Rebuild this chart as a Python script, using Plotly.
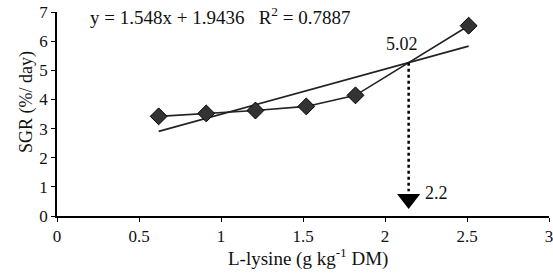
import plotly.graph_objects as go

lysine = [0.62, 0.91, 1.21, 1.52, 1.82, 2.51]
sgr = [3.42, 3.52, 3.62, 3.76, 4.14, 6.53]
slope, intercept = 1.548, 1.9436
r2 = 0.7887
x_ticks = [0, 0.5, 1, 1.5, 2, 2.5, 3]
y_ticks = [0, 1, 2, 3, 4, 5, 6, 7]

# intersection of regression line with last data segment
x1, y1, x2, y2 = lysine[-2], sgr[-2], lysine[-1], sgr[-1]
m = (y2 - y1) / (x2 - x1)
xi = (intercept - y1 + m * x1) / (m - slope)
yi = slope * xi + intercept

font = "Liberation Serif, Times New Roman, serif"
col = "#111"

fig = go.Figure()
fig.add_trace(go.Scatter(
    x=[lysine[0], lysine[-1]],
    y=[slope * lysine[0] + intercept, slope * lysine[-1] + intercept],
    mode="lines", line=dict(color="#222", width=1.6), showlegend=False))
fig.add_trace(go.Scatter(
    x=lysine, y=sgr, mode="lines+markers",
    line=dict(color="#222", width=1.6),
    marker=dict(symbol="diamond", size=13, color="#333", line=dict(color="#000", width=1)),
    showlegend=False))
fig.add_trace(go.Scatter(
    x=[xi, xi], y=[yi, 0.85], mode="lines",
    line=dict(color="#000", width=2.5, dash="dot"), showlegend=False))
fig.add_trace(go.Scatter(
    x=[xi], y=[0.58], mode="markers",
    marker=dict(symbol="triangle-down", size=20, color="#000", line=dict(width=0)),
    showlegend=False))

fig.add_annotation(x=0.19, y=6.85,
                   text=f"y = {slope}x + {intercept}&nbsp;&nbsp;&nbsp;R<sup>2</sup> = {r2}",
                   showarrow=False, font=dict(family=font, size=19, color=col),
                   xanchor="left", yanchor="middle")
fig.add_annotation(x=xi - 0.04, y=yi + 0.65, text="5.02", showarrow=False,
                   font=dict(family=font, size=18, color=col), xanchor="center", yanchor="middle")
fig.add_annotation(x=xi + 0.09, y=0.8, text="2.2", showarrow=False,
                   font=dict(family=font, size=18, color=col), xanchor="left", yanchor="middle")

# axis titles
fig.add_annotation(xref="paper", yref="paper", x=0.5, y=0, xshift=5, yshift=-41,
                   text="L-lysine (g kg<sup>-1</sup> DM)", showarrow=False,
                   font=dict(family=font, size=19, color=col), xanchor="center", yanchor="middle")
fig.add_annotation(xref="paper", yref="paper", x=0, y=0.5, xshift=-31, yshift=12,
                   text="SGR (%/ day)", textangle=-90, showarrow=False,
                   font=dict(family=font, size=18, color=col), xanchor="center", yanchor="middle")

axis_common = dict(showgrid=False, zeroline=False, showline=True, linecolor="#000",
                   linewidth=1.5, ticks="outside", ticklen=4, tickcolor="#000",
                   automargin=False, ticklabeloverflow="allow",
                   tickfont=dict(family=font, size=17, color=col))
fig.update_xaxes(range=[0, 3], tickvals=x_ticks, ticktext=[str(t) for t in x_ticks],
                 **axis_common)
fig.update_yaxes(range=[0, 7], tickvals=y_ticks, **axis_common)
fig.update_layout(width=553, height=274, margin=dict(l=57, r=4, t=12, b=57.5),
                  plot_bgcolor="white", paper_bgcolor="white")
fig.write_html("out.html", config={"displayModeBar": False},
               post_script="document.body.style.margin='0';document.body.style.overflow='hidden';")
